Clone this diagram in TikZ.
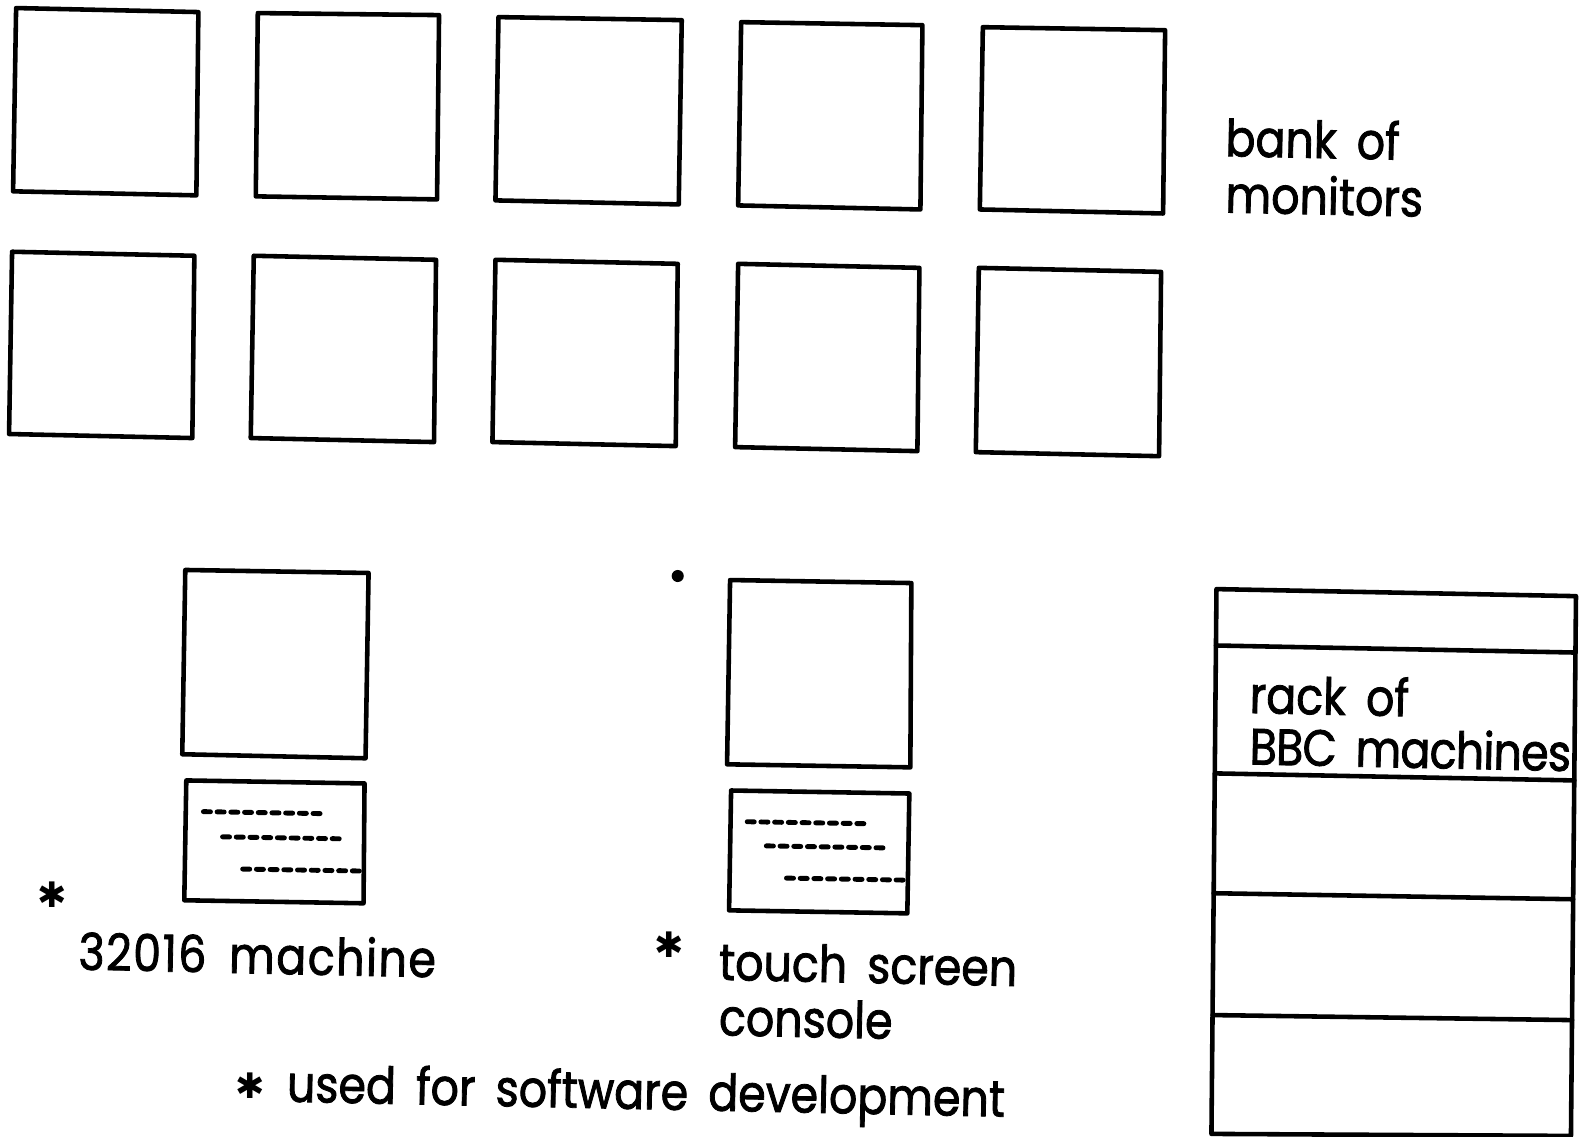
\documentclass[tikz,border=0pt]{standalone}
\usepackage{fontspec}
\setmainfont{Poppins}[FakeStretch=0.87, FakeBold=1.6, WordSpace=1.7]
\newfontfamily\symfont{DejaVu Sans}
\begin{document}
\begin{tikzpicture}[x=0.01007cm, y=-0.01007cm,
  frame/.style={line width=1.3pt, line join=round, line cap=round},
  keys/.style={line width=1.4pt, line cap=round, dash pattern=on 2pt off 1.9pt},
  lbl/.style={anchor=base west, inner sep=0pt, font=\fontsize{14.5}{15.5}\selectfont, rotate=-1.2},
  star/.style={inner sep=0pt, font=\symfont\fontsize{10}{10}\selectfont}]
\useasboundingbox (0,0) rectangle (1568,1129);

% bank of monitors, upper row
\draw[frame] (16,8)    -- (197,12)   -- (195,194)  -- (13,190)  -- cycle;
\draw[frame] (256,13)  -- (436,15)   -- (434,198)  -- (254,195) -- cycle;
\draw[frame] (495,17)  -- (677,20)   -- (674,203)  -- (492,199) -- cycle;
\draw[frame] (736,22)  -- (916,25)   -- (914,208)  -- (733,204) -- cycle;
\draw[frame] (976,27)  -- (1157,30)  -- (1155,212) -- (973,208) -- cycle;
% bank of monitors, lower row
\draw[frame] (12,250)  -- (193,254)  -- (191,435)  -- (9,431)   -- cycle;
\draw[frame] (252,254) -- (433,258)  -- (431,439)  -- (249,435) -- cycle;
\draw[frame] (492,258) -- (673,262)  -- (671,443)  -- (489,439) -- cycle;
\draw[frame] (733,262) -- (913,266)  -- (911,448)  -- (730,444) -- cycle;
\draw[frame] (972,266) -- (1153,270) -- (1151,453) -- (969,449) -- cycle;

\node[lbl] (bank1) at (1216,155) {bank of};
\node[lbl] (bank2) at (1216,211) {monitors};

% 32016 machine: monitor and keyboard
\draw[frame] (184,566) -- (366,569) -- (363,753) -- (181,749) -- cycle;
\draw[frame] (185,775) -- (362,778) -- (361,897) -- (183,894) -- cycle;
\draw[keys] (202,806) -- (322,808);
\draw[keys] (221,831) -- (340,833);
\draw[keys] (241,863) -- (360,865);
\node[star] (s1) at (52,888) {✱};
\node[lbl] (m32) at (77,963) {\addfontfeature{LetterSpace=3}32016 machine};

% touch screen console: monitor and keyboard
\fill (673,572) circle (6);
\draw[frame] (725,576) -- (905,579) -- (904,762) -- (722,759) -- cycle;
\draw[frame] (726,785) -- (903,788) -- (901,907) -- (724,904) -- cycle;
\draw[keys] (742,816) -- (862,818);
\draw[keys] (761,840) -- (880,842);
\draw[keys] (781,872) -- (900,874);
\node[star] (s2) at (665,938) {✱};
\node[lbl] (touch1) at (713,973) {touch screen};
\node[lbl] (touch2) at (713,1028) {console};

% footnote
\node[star] (s3) at (248,1078) {✱};
\node[lbl] (note) at (284,1094) {used for software development};

% rack of BBC machines
\draw[frame] (1208,585) -- (1565,592) -- (1560,1128) -- (1203,1126) -- cycle;
\draw[frame] (1207.5,641) -- (1564.5,648);
\draw[frame] (1206.3,768) -- (1563.3,775);
\draw[frame] (1205.2,887) -- (1562.2,893);
\draw[frame] (1204.1,1008) -- (1561.1,1013);
\node[lbl] (rack1) at (1240,708) {rack of};
\node[lbl] (rack2) at (1240,759) {\addfontfeature{LetterSpace=-1.5}BBC machines};
\end{tikzpicture}
\end{document}
